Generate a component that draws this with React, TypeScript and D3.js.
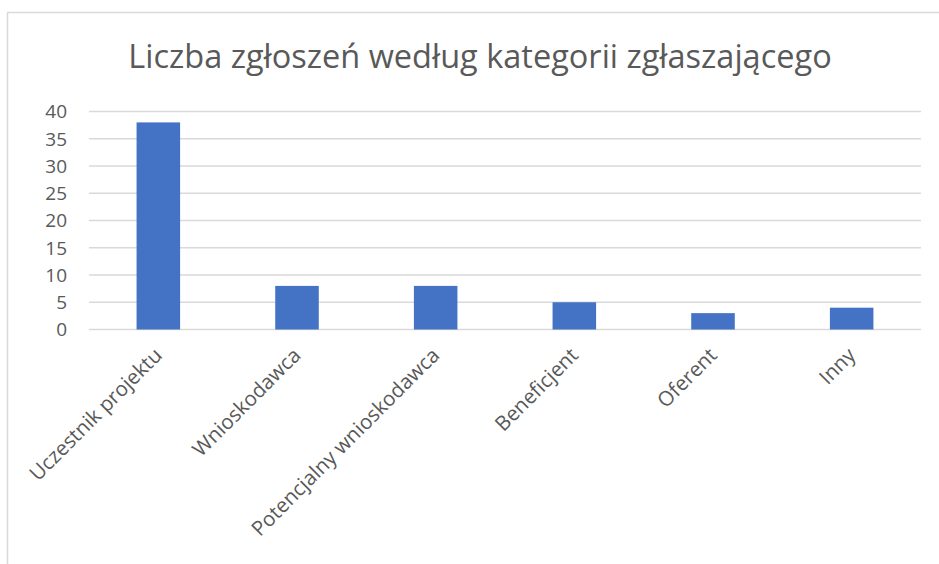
import React, { useEffect, useRef } from 'react';
import * as d3 from 'd3';

const categories = [
  'Uczestnik projektu',
  'Wnioskodawca',
  'Potencjalny wnioskodawca',
  'Beneficjent',
  'Oferent',
  'Inny'
];
const counts = [38, 8, 8, 5, 3, 4];
const yTicks = [0, 5, 10, 15, 20, 25, 30, 35, 40];
const title = 'Liczba zgłoszeń według kategorii zgłaszającego';

const W = 939;
const H = 564;
const FONT = '"Open Sans", "Noto Sans", sans-serif';

export default function App() {
  const svgRef = useRef<SVGSVGElement>(null);

  useEffect(() => {
    const svg = d3.select(svgRef.current);
    svg.selectAll('*').remove();

    const margin = { left: 89, right: 18, top: 111.5, bottom: 234.5 };
    const width = W - margin.left - margin.right;
    const height = H - margin.top - margin.bottom;

    // chart frame
    svg
      .append('rect')
      .attr('x', 7.5)
      .attr('y', 12.5)
      .attr('width', 1000)
      .attr('height', 1000)
      .attr('fill', '#fff')
      .attr('stroke', '#d9d9d9')
      .attr('stroke-width', 1.5);

    svg
      .append('text')
      .attr('x', 480)
      .attr('y', 68)
      .attr('text-anchor', 'middle')
      .attr('font-family', FONT)
      .attr('font-size', 32.5)
      .attr('fill', '#595959')
      .text(title);

    const x = d3
      .scaleBand()
      .domain(categories)
      .range([0, width])
      .paddingInner(0.686)
      .paddingOuter(0.343);
    const y = d3.scaleLinear().domain([0, 40]).range([height, 0]);

    const g = svg
      .append('g')
      .attr('transform', `translate(${margin.left}, ${margin.top})`);

    g.selectAll('.grid')
      .data(yTicks)
      .enter()
      .append('line')
      .attr('class', 'grid')
      .attr('x1', 0)
      .attr('x2', width)
      .attr('y1', d => y(d))
      .attr('y2', d => y(d))
      .attr('stroke', '#d9d9d9')
      .attr('stroke-width', 1.5);

    g.selectAll('.ylab')
      .data(yTicks)
      .enter()
      .append('text')
      .attr('class', 'ylab')
      .attr('x', -22)
      .attr('y', d => y(d))
      .attr('dy', '0.36em')
      .attr('text-anchor', 'end')
      .attr('font-family', FONT)
      .attr('font-size', 19)
      .attr('fill', '#595959')
      .text(d => d);

    g.selectAll('.bar')
      .data(counts)
      .enter()
      .append('rect')
      .attr('class', 'bar')
      .attr('x', (d, i) => x(categories[i])!)
      .attr('y', d => y(d))
      .attr('width', x.bandwidth())
      .attr('height', d => height - y(d))
      .attr('fill', '#4472c4');

    g.selectAll('.xlab')
      .data(categories)
      .enter()
      .append('text')
      .attr('class', 'xlab')
      .attr(
        'transform',
        d => `translate(${x(d)! + x.bandwidth() / 2}, ${height + 22}) rotate(-45)`
      )
      .attr('text-anchor', 'end')
      .attr('dy', '0.35em')
      .attr('font-family', FONT)
      .attr('font-size', 20.5)
      .attr('fill', '#595959')
      .text(d => d);
  }, []);

  return (
    <svg
      ref={svgRef}
      width={W}
      height={H}
      style={{ position: 'absolute', left: 0, top: 0, background: '#fff' }}
    />
  );
}
